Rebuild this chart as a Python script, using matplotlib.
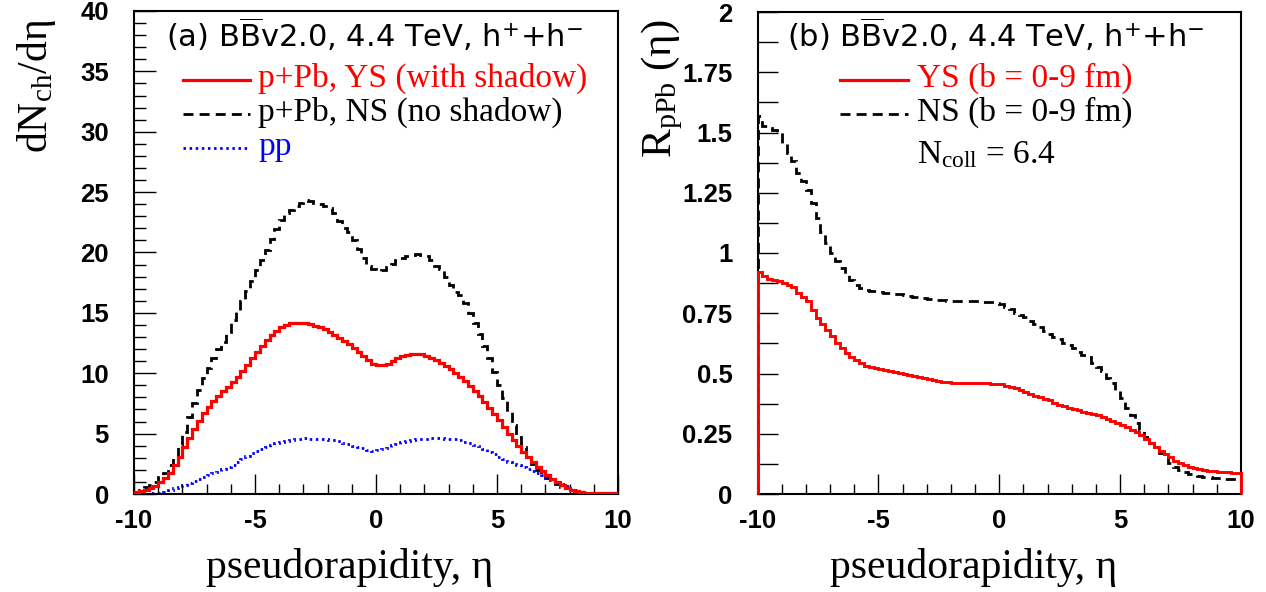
import numpy as np
import matplotlib
matplotlib.use("Agg")
import matplotlib.pyplot as plt
from matplotlib.ticker import MultipleLocator

plt.rcParams["axes.unicode_minus"] = False
plt.rcParams["mathtext.fontset"] = "custom"
plt.rcParams["mathtext.rm"] = "Liberation Serif:normal"
plt.rcParams["mathtext.it"] = "Liberation Serif:italic:normal"
plt.rcParams["mathtext.bf"] = "Liberation Serif:bold"
plt.rcParams["mathtext.sf"] = "DejaVu Sans:normal"
# tick labels: bold Arial-like
plt.rcParams["font.family"] = "Liberation Sans"
plt.rcParams["font.weight"] = "bold"
plt.rcParams["xtick.labelsize"] = 18.5
plt.rcParams["ytick.labelsize"] = 18.5

# bin edges of the histograms (100 bins in eta)
eta_edges = np.linspace(-10, 10, 101)

# (a) dNch/deta, p+Pb with shadowing
ys_dndeta = [
    0.17, 0.25, 0.33, 0.47, 0.69, 0.97, 1.30, 1.77, 2.38, 3.09,
    3.87, 4.67, 5.39, 6.08, 6.74, 7.24, 7.71, 8.15, 8.54, 8.90,
    9.31, 9.72, 10.19, 10.72, 11.24, 11.74, 12.27, 12.73, 13.15, 13.51,
    13.81, 14.03, 14.14, 14.20, 14.20, 14.14, 14.06, 13.95, 13.81, 13.65,
    13.43, 13.20, 12.96, 12.71, 12.40, 12.10, 11.77, 11.46, 11.10, 10.77,
    10.69, 10.72, 10.80, 11.05, 11.24, 11.41, 11.55, 11.63, 11.63, 11.57,
    11.46, 11.30, 11.10, 10.88, 10.64, 10.36, 10.06, 9.72, 9.36, 8.95,
    8.54, 8.09, 7.62, 7.13, 6.63, 6.10, 5.58, 5.00, 4.45, 3.95,
    3.48, 3.07, 2.65, 2.27, 1.88, 1.55, 1.24, 0.97, 0.72, 0.52,
    0.36, 0.25, 0.17, 0.11, 0.08, 0.05, 0.05, 0.05, 0.05, 0.05,
]
# (a) p+Pb, no shadowing
ns_dndeta = [
    0.17, 0.33, 0.55, 0.75, 1.00, 1.38, 1.77, 2.40, 3.15, 4.06,
    5.17, 6.41, 7.51, 8.62, 9.59, 10.41, 11.24, 11.99, 12.62, 13.45,
    14.42, 15.25, 16.02, 16.82, 17.68, 18.56, 19.39, 20.22, 21.10, 21.93,
    22.71, 23.31, 23.54, 23.87, 24.14, 24.31, 24.23, 24.14, 24.03, 23.81,
    23.67, 23.26, 22.57, 22.02, 21.66, 21.05, 20.28, 19.53, 18.90, 18.62,
    18.48, 18.56, 18.78, 19.06, 19.34, 19.53, 19.67, 19.81, 19.89, 19.81,
    19.67, 19.34, 18.90, 18.62, 18.01, 17.32, 16.77, 16.46, 15.80, 15.03,
    14.14, 13.26, 12.27, 11.24, 10.14, 9.03, 7.93, 6.82, 5.72, 4.75,
    3.87, 3.09, 2.49, 1.99, 1.60, 1.30, 1.02, 0.80, 0.61, 0.47,
    0.33, 0.22, 0.14, 0.08, 0.05, 0.05, 0.05, 0.05, 0.05, 0.05,
]
# (a) pp
pp_dndeta = [
    0.00, 0.02, 0.03, 0.05, 0.08, 0.12, 0.19, 0.36, 0.50, 0.61,
    0.75, 0.88, 1.05, 1.22, 1.38, 1.55, 1.71, 1.85, 2.04, 2.27,
    2.43, 2.68, 2.93, 3.15, 3.37, 3.54, 3.70, 3.90, 4.06, 4.20,
    4.28, 4.39, 4.48, 4.53, 4.59, 4.61, 4.59, 4.59, 4.56, 4.53,
    4.48, 4.45, 4.36, 4.25, 4.12, 3.98, 3.87, 3.78, 3.67, 3.59,
    3.65, 3.70, 3.84, 4.03, 4.17, 4.31, 4.42, 4.50, 4.56, 4.59,
    4.59, 4.61, 4.61, 4.61, 4.59, 4.59, 4.53, 4.45, 4.34, 4.23,
    4.09, 3.95, 3.76, 3.51, 3.29, 3.07, 2.87, 2.68, 2.51, 2.38,
    2.21, 2.07, 1.93, 1.77, 1.57, 1.38, 1.19, 0.99, 0.83, 0.64,
    0.44, 0.30, 0.19, 0.11, 0.06, 0.04, 0.03, 0.02, 0.01, 0.01,
]

# (b) R_pPb, with shadowing
ys_rppb = [
    0.921, 0.903, 0.893, 0.886, 0.882, 0.875, 0.868, 0.858, 0.836, 0.819,
    0.799, 0.764, 0.730, 0.706, 0.681, 0.656, 0.628, 0.605, 0.587, 0.570,
    0.556, 0.543, 0.533, 0.526, 0.522, 0.518, 0.514, 0.510, 0.505, 0.501,
    0.497, 0.493, 0.489, 0.485, 0.480, 0.476, 0.472, 0.469, 0.466, 0.464,
    0.462, 0.462, 0.462, 0.462, 0.462, 0.462, 0.461, 0.459, 0.458, 0.456,
    0.455, 0.450, 0.446, 0.440, 0.433, 0.425, 0.417, 0.408, 0.402, 0.395,
    0.388, 0.379, 0.371, 0.365, 0.358, 0.353, 0.348, 0.342, 0.336, 0.332,
    0.327, 0.320, 0.313, 0.304, 0.296, 0.287, 0.277, 0.266, 0.256, 0.244,
    0.230, 0.213, 0.196, 0.180, 0.166, 0.152, 0.138, 0.127, 0.120, 0.113,
    0.108, 0.103, 0.100, 0.097, 0.094, 0.093, 0.091, 0.090, 0.088, 0.088,
]
# (b) R_pPb, no shadowing
ns_rppb = [
    1.567, 1.525, 1.520, 1.509, 1.501, 1.456, 1.415, 1.380, 1.334, 1.297,
    1.260, 1.207, 1.145, 1.089, 1.041, 1.000, 0.965, 0.937, 0.909, 0.889,
    0.868, 0.854, 0.847, 0.844, 0.842, 0.839, 0.836, 0.833, 0.831, 0.828,
    0.825, 0.822, 0.819, 0.817, 0.814, 0.811, 0.808, 0.806, 0.803, 0.800,
    0.799, 0.799, 0.799, 0.799, 0.799, 0.799, 0.796, 0.795, 0.795, 0.793,
    0.789, 0.778, 0.767, 0.753, 0.743, 0.734, 0.718, 0.706, 0.692, 0.678,
    0.664, 0.653, 0.642, 0.628, 0.619, 0.605, 0.591, 0.577, 0.568, 0.543,
    0.529, 0.512, 0.480, 0.462, 0.432, 0.397, 0.356, 0.328, 0.294, 0.266,
    0.235, 0.211, 0.190, 0.172, 0.152, 0.127, 0.113, 0.100, 0.093, 0.083,
    0.078, 0.075, 0.072, 0.069, 0.066, 0.065, 0.064, 0.062, 0.061, 0.062,
]
rppb_ticklabels = ["0", "0.25", "0.5", "0.75", "1", "1.25", "1.5", "1.75", "2"]
n_coll = 6.4

W, H = 1266, 592
fig = plt.figure(figsize=(W / 100, H / 100), dpi=100)

def px(x, y):
    return x / W, 1 - y / H

ax_a = fig.add_axes([134 / W, 1 - 494 / H, 484 / W, 483 / H])
ax_b = fig.add_axes([757.5 / W, 1 - 494 / H, 483.5 / W, 482 / H])

dash = (0, (3.6, 2.2))
dot = (0, (0.9, 1.3))

ax_a.stairs(ns_dndeta, eta_edges, color="black", lw=2.0, linestyle=dash)
ax_a.stairs(pp_dndeta, eta_edges, color="blue", lw=2.0, linestyle=dot)
ax_a.stairs(ys_dndeta, eta_edges, color="red", lw=2.3, zorder=3)
ax_a.set_xlim(-10, 10)
ax_a.set_ylim(0, 40)
ax_a.xaxis.set_major_locator(MultipleLocator(5))
ax_a.xaxis.set_minor_locator(MultipleLocator(1))
ax_a.yaxis.set_major_locator(MultipleLocator(5))
ax_a.yaxis.set_minor_locator(MultipleLocator(1))

ax_b.stairs(ns_rppb, eta_edges, color="black", lw=2.0, linestyle=dash)
ax_b.stairs(ys_rppb, eta_edges, color="red", lw=2.1, zorder=3, clip_on=False)
ax_b.set_xlim(-10, 10)
ax_b.set_ylim(0, 2)
ax_b.xaxis.set_major_locator(MultipleLocator(5))
ax_b.xaxis.set_minor_locator(MultipleLocator(1))
ax_b.yaxis.set_ticks(np.arange(0, 2.01, 0.25))
ax_b.yaxis.set_ticklabels(rppb_ticklabels)
ax_b.yaxis.set_minor_locator(MultipleLocator(0.125))

for ax in (ax_a, ax_b):
    for s in ax.spines.values():
        s.set_linewidth(1.5)
    ax.tick_params(which="both", direction="in", top=False, right=False, width=1.0)
    ax.tick_params(axis="x", which="major", length=14.4, pad=11)
    ax.tick_params(axis="x", which="minor", length=7.2)
    ax.tick_params(axis="y", pad=18)

ax_a.tick_params(axis="y", which="major", length=15.5)
ax_a.tick_params(axis="y", which="minor", length=8.5)
ax_b.tick_params(axis="y", which="both", length=14.4)

serif = "Liberation Serif"
norm = "normal"

# axis titles
fig.text(*px(350, 578), "pseudorapidity, η", family=serif, weight=norm, fontsize=30,
         ha="center", va="baseline")
fig.text(*px(974, 578), "pseudorapidity, η", family=serif, weight=norm, fontsize=30,
         ha="center", va="baseline")
fig.text(*px(36, 19), r"dN$_{\rm ch}$/dη", family=serif, weight=norm, fontsize=30,
         rotation=90, ha="center", va="top")
fig.text(*px(662, 19), r"R$_{\rm pPb}$ (η)", family=serif, weight=norm, fontsize=31,
         rotation=90, ha="center", va="top")

# panel headers
head = r"B$\overline{\mathsf{B}}$v2.0, 4.4 TeV, h$^{\mathsf{+}}$+h$^{\mathsf{-}}$"
fig.text(*px(374, 47), "(a) " + head, family="DejaVu Sans", weight=norm, fontsize=22,
         ha="center", va="baseline")
fig.text(*px(996, 47), "(b) " + head, family="DejaVu Sans", weight=norm, fontsize=22,
         ha="center", va="baseline")

# legend of panel (a)
leg_a = [
    ("p+Pb, YS (with shadow)", "red", "-", 2.3, 87),
    ("p+Pb, NS (no shadow)", "black", dash, 2.0, 121),
    ("pp", "blue", dot, 2.0, 155),
]
for label, col, ls, lw, yb in leg_a:
    fig.add_artist(plt.Line2D([183 / W, 250 / W], [1 - (yb - 7) / H] * 2,
                              color=col, linestyle=ls, lw=lw))
    fig.text(*px(258, yb), label, family=serif, weight=norm, fontsize=24, color=col,
             va="baseline")

# legend of panel (b)
leg_b = [
    ("YS (b = 0-9 fm)", "red", "-", 2.3, 87),
    ("NS (b = 0-9 fm)", "black", dash, 2.0, 121),
]
for label, col, ls, lw, yb in leg_b:
    fig.add_artist(plt.Line2D([840 / W, 908 / W], [1 - (yb - 7) / H] * 2,
                              color=col, linestyle=ls, lw=lw))
    fig.text(*px(917, yb), label, family=serif, weight=norm, fontsize=24, color=col,
             va="baseline")
fig.text(*px(917, 163), r"N$_{\rm coll}$ = " + f"{n_coll}", family=serif, weight=norm,
         fontsize=24, va="baseline")

fig.savefig("out.png", dpi=100)
